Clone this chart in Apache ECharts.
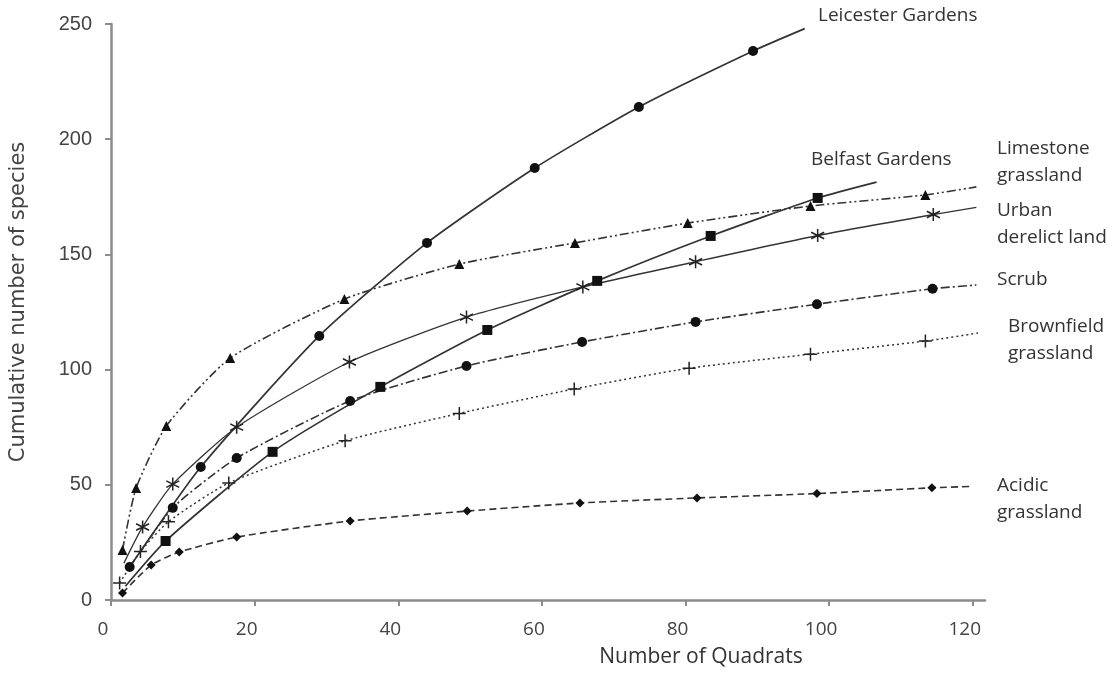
<!DOCTYPE html>
<html>
<head>
<meta charset="utf-8">
<script src="https://cdn.jsdelivr.net/npm/echarts@6/dist/echarts.min.js"></script>
<style>
html,body{margin:0;padding:0;background:#fff;}
#chart{width:1115px;height:675px;}
</style>
</head>
<body>
<div id="chart"></div>
<script>
// ---- data (x = number of quadrats, y = cumulative number of species) ----
const xTicks = [0, 20, 40, 60, 80, 100, 120];
const yTicks = [0, 50, 100, 150, 200, 250];

const leicesterStart = [2.6, 14.3];
const leicesterPts = [[12.5, 57.7], [29, 114.6], [44, 155], [59, 187.5], [73.5, 214], [89.4, 238.3]];
const leicesterEnd = [96.6, 248];

const belfastStart = [2, 6];
const belfastPts = [[7.6, 25.6], [22.5, 64.3], [37.5, 92.5], [52.4, 117.2], [67.7, 138.5], [83.5, 158], [98.4, 174.5]];
const belfastEnd = [106.6, 181.4];

const limestonePts = [[1.6, 21.7], [3.5, 48.6], [7.7, 75.5], [16.6, 105], [32.5, 130.6], [48.5, 145.8], [64.6, 155], [80.3, 163.6], [97.4, 171], [113.4, 175.8]];
const limestoneEnd = [120.5, 179.3];

const urbanStart = [1.8, 16];
const urbanPts = [[4.4, 31.7], [8.6, 50.3], [17.5, 75], [33.2, 103.3], [49.5, 122.8], [65.7, 135.9], [81.4, 146.8], [98.4, 158.2], [114.5, 167.3]];
const urbanEnd = [120.5, 170.4];

const scrubPts = [[2.6, 14.3], [8.6, 40], [17.5, 61.6], [33.3, 86.4], [49.5, 101.6], [65.6, 112], [81.4, 120.7], [98.3, 128.4], [114.4, 135.1]];
const scrubEnd = [120.5, 136.7];

const brownfieldPts = [[1.2, 7.4], [4.1, 21], [8, 34], [16.4, 50.8], [32.6, 69.1], [48.5, 81], [64.5, 91.6], [80.5, 100.6], [97.4, 106.7], [113.4, 112.4]];
const brownfieldEnd = [121, 116];

const acidicPts = [[1.6, 3], [5.6, 15.2], [9.5, 20.8], [17.5, 27.3], [33.3, 34.3], [49.6, 38.6], [65.3, 42.1], [81.6, 44.3], [98.3, 46.2], [114.3, 48.7]];
const acidicEnd = [120, 49.3];

const seriesNames = ['Leicester Gardens', 'Belfast Gardens', 'Limestone grassland', 'Urban derelict land', 'Scrub', 'Brownfield grassland', 'Acidic grassland'];

// ---- build ----
const INK = '#333';
function build(start, pts, end) {
  const d = [];
  if (start) d.push({ value: start, symbol: 'none' });
  pts.forEach(p => d.push({ value: p }));
  if (end) d.push({ value: end, symbol: 'none' });
  return d;
}
const ASTER = 'path://M0,-10 L0,10 M-8.66,-5 L8.66,5 M-8.66,5 L8.66,-5';
const PLUS = 'path://M-10,0 L10,0 M0,-10 L0,10';

function lineSeries(name, data, symbol, size, dash, width, stroked) {
  return {
    name, type: 'line', data, symbol, symbolSize: size,
    smooth: 0.2,
    lineStyle: { color: INK, width: width, type: dash },
    itemStyle: stroked ? { color: 'rgba(0,0,0,0)', borderColor: '#222', borderWidth: 1.5 } : { color: '#111', borderWidth: 0 },
    z: 3, silent: true, animation: false
  };
}

const FONT_NOTE = '19px "Open Sans"';
const chart = echarts.init(document.getElementById('chart'), null, { renderer: 'canvas' });
const option = {
  backgroundColor: '#fff',
  animation: false,
  grid: { left: 110, right: 130, top: 24, bottom: 75, containLabel: false },
  xAxis: {
    type: 'value', min: 0, max: 121.7,
    name: 'Number of Quadrats', nameLocation: 'middle', nameGap: 47,
    nameTextStyle: { fontFamily: 'Open Sans', fontSize: 21, color: '#333', padding: [0, 0, 0, 306] },
    axisLine: { show: true, lineStyle: { color: '#8c8c8c', width: 2.5 } },
    axisTick: { show: true, length: 6, inside: false, customValues: xTicks, lineStyle: { color: '#8c8c8c', width: 2 } },
    axisLabel: { customValues: xTicks, margin: 20, fontFamily: 'Open Sans', fontSize: 19, color: '#444', padding: [0, 16, 0, 0] },
    splitLine: { show: false }
  },
  yAxis: {
    type: 'value', min: 0, max: 250, interval: 50,
    name: 'Cumulative number of species', nameLocation: 'middle', nameGap: 82, nameRotate: 90,
    nameTextStyle: { fontFamily: 'DejaVu Sans', fontSize: 21, color: '#444', padding: [0, 0, 0, 20] },
    axisLine: { show: true, lineStyle: { color: '#8c8c8c', width: 2.5 } },
    axisTick: { show: true, length: 6, inside: false, lineStyle: { color: '#8c8c8c', width: 2 } },
    axisLabel: { margin: 19, fontFamily: 'Liberation Sans', fontSize: 20, color: '#444' },
    splitLine: { show: false }
  },
  series: [
    lineSeries(seriesNames[0], build(leicesterStart, leicesterPts, leicesterEnd), 'circle', 10, 'solid', 1.7, false),
    lineSeries(seriesNames[1], build(belfastStart, belfastPts, belfastEnd), 'rect', 10, 'solid', 1.7, false),
    lineSeries(seriesNames[2], build(null, limestonePts, limestoneEnd), 'triangle', 10, [9, 3, 2, 3, 2, 3], 1.6, false),
    lineSeries(seriesNames[3], build(urbanStart, urbanPts, urbanEnd), ASTER, 13, 'solid', 1.3, true),
    lineSeries(seriesNames[4], build(null, scrubPts, scrubEnd), 'circle', 10, [9, 3, 2, 3], 1.6, false),
    lineSeries(seriesNames[5], build(null, brownfieldPts, brownfieldEnd), PLUS, 13, [2, 3], 1.5, true),
    lineSeries(seriesNames[6], build(null, acidicPts, acidicEnd), 'diamond', 9, [7, 4], 1.6, false)
  ],
  graphic: [
    { type: 'text', left: 818, top: 6, style: { text: 'Leicester Gardens', font: FONT_NOTE, fill: '#333' } },
    { type: 'text', left: 811, top: 150, style: { text: 'Belfast Gardens', font: FONT_NOTE, fill: '#333' } },
    { type: 'text', left: 997, top: 135, style: { text: 'Limestone\ngrassland', font: FONT_NOTE, lineHeight: 27, fill: '#333' } },
    { type: 'text', left: 997, top: 197, style: { text: 'Urban\nderelict land', font: FONT_NOTE, lineHeight: 27, fill: '#333' } },
    { type: 'text', left: 997, top: 270, style: { text: 'Scrub', font: FONT_NOTE, fill: '#333' } },
    { type: 'text', left: 1008, top: 313, style: { text: 'Brownfield\ngrassland', font: FONT_NOTE, lineHeight: 27, fill: '#333' } },
    { type: 'text', left: 997, top: 472, style: { text: 'Acidic\ngrassland', font: FONT_NOTE, lineHeight: 27, fill: '#333' } }
  ]
};
chart.setOption(option);
</script>
</body>
</html>
